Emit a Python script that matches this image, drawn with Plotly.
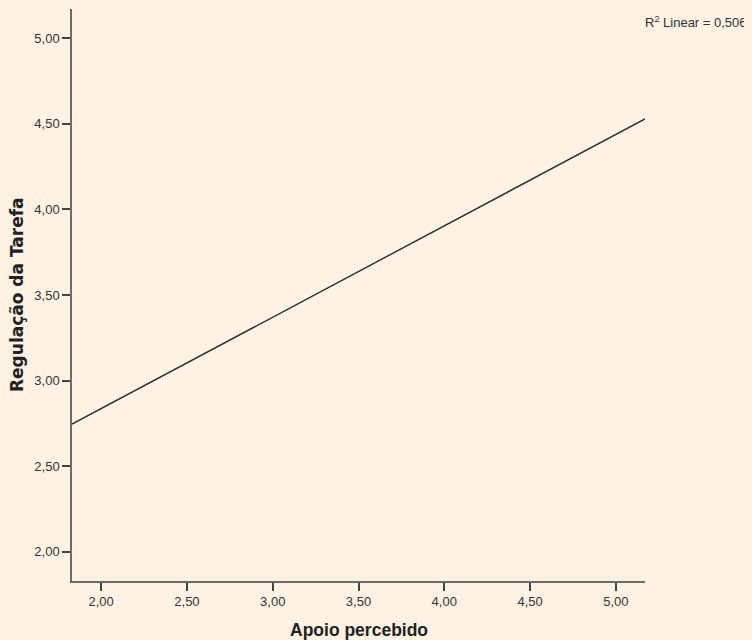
import plotly.graph_objects as go

# Fit line endpoints
line_x = [1.83, 5.17]
line_y = [2.746, 4.528]
tick_vals = [2.0, 2.5, 3.0, 3.5, 4.0, 4.5, 5.0]
tick_text = ["2,00", "2,50", "3,00", "3,50", "4,00", "4,50", "5,00"]
r2_label = "R<sup>2</sup> Linear = 0,506"
x_title = "Apoio percebido"
y_title = "Regulação da Tarefa"

bg = "#FDF2E3"
axis_col = "#6b6b6b"
text_col = "#333333"

fig = go.Figure()
fig.add_trace(go.Scatter(x=line_x, y=line_y, mode="lines",
                         line=dict(color="#2b2b2b", width=1.4),
                         hoverinfo="skip", showlegend=False))

fig.update_layout(
    width=752, height=640,
    paper_bgcolor=bg, plot_bgcolor=bg,
    margin=dict(l=64, r=115, t=1, b=67),
    font=dict(family="Liberation Sans, Arial, sans-serif", size=13, color=text_col),
    showlegend=False,
)
axis_common = dict(range=[1.83, 5.17], tickvals=tick_vals, ticktext=tick_text,
                   showgrid=False, zeroline=False, showline=True, linecolor=axis_col,
                   linewidth=1.5, ticks="outside", ticklen=8, tickcolor="#444", tickwidth=1.5,
                   tickfont=dict(size=13, color=text_col))
fig.update_xaxes(**axis_common)
fig.update_yaxes(**axis_common)

fig.add_annotation(text=r2_label, xref="paper", yref="paper", x=1.0, y=1.0,
                   xanchor="left", yanchor="top", xshift=-2, yshift=-3, showarrow=False,
                   font=dict(size=13, color=text_col))
fig.add_annotation(text="<b>" + x_title + "</b>", xref="paper", yref="paper", x=0.5, y=0,
                   xanchor="center", yanchor="middle", yshift=-49, showarrow=False,
                   font=dict(family="Liberation Sans, Arial, sans-serif", size=17.5, color="#222"))
fig.add_annotation(text="<b>" + y_title + "</b>", xref="paper", yref="paper", x=0, y=0.5,
                   xanchor="center", yanchor="middle", xshift=-55, textangle=-90, showarrow=False,
                   font=dict(family="DejaVu Sans, sans-serif", size=17, color="#222"))

fig.write_html("out.html",
               post_script="document.body.style.background='" + bg + "';"
                           "document.documentElement.style.background='" + bg + "';")
